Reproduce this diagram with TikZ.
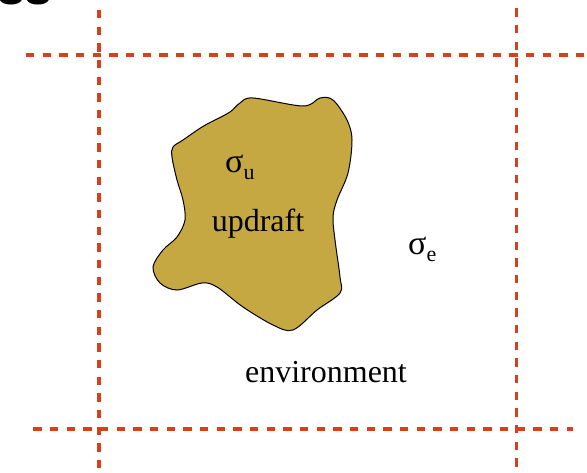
\documentclass[tikz,border=0pt]{standalone}
\usepackage{fontspec}
\setmainfont{Liberation Serif}
\newfontfamily\headfont{Liberation Sans}
\definecolor{gridred}{RGB}{214,64,28}
\definecolor{updraftfill}{RGB}{197,168,66}
% sigma with a lowered subscript letter
\newcommand{\sigsub}[1]{{\fontsize{34}{36}\selectfont σ}\raisebox{-7pt}{\fontsize{22}{24}\selectfont #1}}

\begin{document}
\begin{tikzpicture}[x=1pt,y=-1pt,
  gridline/.style={draw=gridred, line width=3.6pt, dash pattern=on 8.3pt off 8.37pt},
  lbl/.style={inner sep=0pt, font=\fontsize{32}{36}\selectfont},
  symlbl/.style={inner sep=0pt, anchor=base west},
]
\useasboundingbox (0,0) rectangle (587,473);
\clip (0,0) rectangle (587,473);

% heading text running off the top edge
\node[inner sep=0pt, anchor=base east, font=\headfont\bfseries\fontsize{50}{54}\selectfont] (head) at (53,5) {ss};

% grid lines
\coordinate (topL) at (26,55);    \coordinate (topR) at (592,55);
\coordinate (botL) at (33.3,428.7); \coordinate (botR) at (573,428.7);
\coordinate (lefT) at (98.7,10);  \coordinate (lefB) at (98.7,480);
\coordinate (rigT) at (516.3,8.3); \coordinate (rigB) at (516.3,480);
\draw[gridline] (topL) -- (topR);
\draw[gridline] (botL) -- (botR);
\draw[gridline] (lefT) -- (lefB);
\draw[gridline] (rigT) -- (rigB);

% updraft region
\draw[fill=updraftfill, line width=1pt] plot[smooth cycle, tension=0.55] coordinates {
  (253,98) (303,106) (320,98) (333,100) (347,120) (352,140) (348,173)
  (337,200) (333,217) (335,240) (340,277) (340,293) (317,310) (293,330)
  (273,325) (243,307) (217,287) (202,283) (177,290) (160,283) (153,267)
  (163,250) (177,237) (185,220) (183,200) (177,180) (172,157) (173,147)
  (183,140) (202,127) (215,120) (230,112) (240,103)};

% labels
\node[symlbl] (sigu) at (225,172.7) {\sigsub{u}};
\node[lbl, anchor=base] (updraft) at (258,232) {updraft};
\node[symlbl] (sige) at (408,255) {\sigsub{e}};
\node[lbl, anchor=base] (env) at (326,383) {environment};
\end{tikzpicture}
\end{document}
